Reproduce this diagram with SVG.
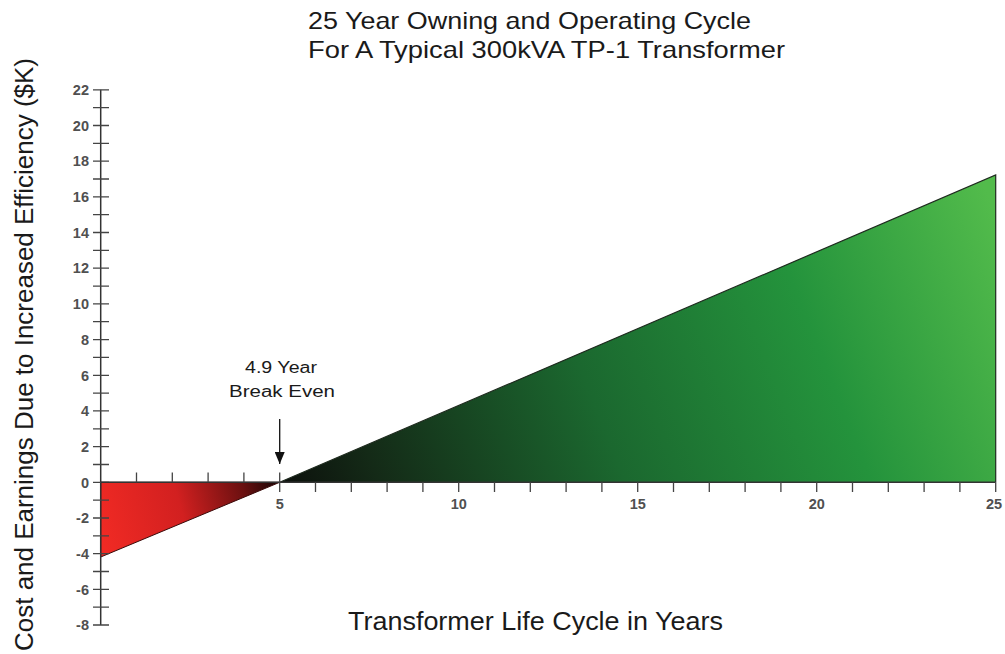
<svg xmlns="http://www.w3.org/2000/svg" width="1005" height="654" viewBox="0 0 1005 654">
  <style>
    text { font-family: "Liberation Sans", Arial, sans-serif; fill: #1a1a1a; }
    .title { font-size: 24px; }
    .axis-title { font-size: 26px; }
    .tick-label { font-size: 14.5px; font-weight: bold; fill: #505050; }
    .note { font-size: 16px; text-anchor: middle; }
    .axis { stroke: #333; stroke-width: 1.5; fill: none; }
    .tick { stroke: #444; stroke-width: 1.3; fill: none; }
    .edge { stroke: #1e2a1e; stroke-width: 1.2; }
  </style>
  <defs>
    <linearGradient id="gainGrad" gradientUnits="userSpaceOnUse" x1="280" y1="482" x2="990" y2="200">
      <stop offset="0" stop-color="#0c100c"/>
      <stop offset="0.12" stop-color="#142a17"/>
      <stop offset="0.42" stop-color="#1b682f"/>
      <stop offset="0.72" stop-color="#24933c"/>
      <stop offset="1" stop-color="#52bb4b"/>
    </linearGradient>
    <linearGradient id="lossGrad" gradientUnits="userSpaceOnUse" x1="100" y1="530" x2="280" y2="482">
      <stop offset="0" stop-color="#f02a24"/>
      <stop offset="0.45" stop-color="#d22020"/>
      <stop offset="0.8" stop-color="#6a1010"/>
      <stop offset="1" stop-color="#140505"/>
    </linearGradient>
    <marker id="arrowHead" viewBox="0 0 12 10" refX="12" refY="5" markerWidth="12" markerHeight="10" markerUnits="userSpaceOnUse" orient="auto">
      <path d="M0,0 L12,5 L0,10 Z" fill="#111"/>
    </marker>
  </defs>

  <g id="title">
    <text class="title" x="308" y="28.5" textLength="443" lengthAdjust="spacingAndGlyphs">25 Year Owning and Operating Cycle</text>
    <text class="title" x="308" y="58" textLength="477" lengthAdjust="spacingAndGlyphs">For A Typical 300kVA TP-1 Transformer</text>
  </g>

  <g id="loss-region">
    <polygon points="100.7,482.3 279.7,482.3 100.7,557" fill="url(#lossGrad)" stroke="#3a0a0a" stroke-width="1"/>
  </g>

  <g id="gain-region">
    <polygon points="279.7,482.3 995.7,175 995.7,482.3" fill="url(#gainGrad)"/>
    <path class="edge" d="M279.7,482.3 L995.7,175 L995.7,482.3" fill="none"/>
  </g>

  <g id="y-axis">
    <path class="axis" d="M100.7,89.8 V625"/>
    <path class="tick" d="M93,89.8 H109 M93,107.7 H109 M93,125.5 H109 M93,143.3 H109 M93,161.2 H109 M93,179 H109 M93,196.9 H109 M93,214.7 H109 M93,232.5 H109 M93,250.4 H109 M93,268.2 H109 M93,286.1 H109 M93,303.9 H109 M93,321.7 H109 M93,339.6 H109 M93,357.4 H109 M93,375.3 H109 M93,393.1 H109 M93,410.9 H109 M93,428.8 H109 M93,446.6 H109 M93,464.5 H109 M93,482.3 H109 M93,500.1 H109 M93,518 H109 M93,535.8 H109 M93,553.7 H109 M93,571.5 H109 M93,589.3 H109 M93,607.2 H109 M93,625 H109"/>
    <g class="ylabels" text-anchor="end">
      <text class="tick-label" x="89" y="95">22</text>
      <text class="tick-label" x="89" y="130.7">20</text>
      <text class="tick-label" x="89" y="166.4">18</text>
      <text class="tick-label" x="89" y="202.1">16</text>
      <text class="tick-label" x="89" y="237.7">14</text>
      <text class="tick-label" x="89" y="273.4">12</text>
      <text class="tick-label" x="89" y="309.1">10</text>
      <text class="tick-label" x="89" y="344.8">8</text>
      <text class="tick-label" x="89" y="380.5">6</text>
      <text class="tick-label" x="89" y="416.1">4</text>
      <text class="tick-label" x="89" y="451.8">2</text>
      <text class="tick-label" x="89" y="487.5">0</text>
      <text class="tick-label" x="89" y="523.2">-2</text>
      <text class="tick-label" x="89" y="558.9">-4</text>
      <text class="tick-label" x="89" y="594.5">-6</text>
      <text class="tick-label" x="89" y="630.2">-8</text>
    </g>
    <text class="axis-title" transform="translate(33,651) rotate(-90)" x="0" y="0" font-size="27" textLength="593" lengthAdjust="spacingAndGlyphs">Cost and Earnings Due to Increased Efficiency ($K)</text>
  </g>

  <g id="x-axis">
    <path class="axis" d="M100.7,482.3 H995.7"/>
    <path class="tick" d="M136.5,472.5 V482.3 M172.3,472.5 V482.3 M208.1,472.5 V482.3 M243.9,472.5 V482.3 M279.7,472.5 V492 M315.5,482.3 V492 M351.3,482.3 V492 M387.1,482.3 V492 M422.9,482.3 V492 M458.7,482.3 V492 M494.5,482.3 V492 M530.3,482.3 V492 M566.1,482.3 V492 M601.9,482.3 V492 M637.7,482.3 V492 M673.5,482.3 V492 M709.3,482.3 V492 M745.1,482.3 V492 M780.9,482.3 V492 M816.7,482.3 V492 M852.5,482.3 V492 M888.3,482.3 V492 M924.1,482.3 V492 M959.9,482.3 V492 M995.7,482.3 V492"/>
    <g text-anchor="middle">
      <text class="tick-label" x="279.7" y="509">5</text>
      <text class="tick-label" x="458.7" y="509">10</text>
      <text class="tick-label" x="637.7" y="509">15</text>
      <text class="tick-label" x="816.7" y="509">20</text>
      <text class="tick-label" x="994" y="509">25</text>
    </g>
    <text class="axis-title" x="348" y="629.5" font-size="25" textLength="375" lengthAdjust="spacingAndGlyphs">Transformer Life Cycle in Years</text>
  </g>

  <g id="break-even">
    <text class="note" x="281" y="372.5" textLength="72" lengthAdjust="spacingAndGlyphs">4.9 Year</text>
    <text class="note" x="282" y="396.5" textLength="106" lengthAdjust="spacingAndGlyphs">Break Even</text>
  </g>

  <g id="connectors">
    <line x1="279.7" y1="419" x2="279.7" y2="464" stroke="#111" stroke-width="1.3" marker-end="url(#arrowHead)"/>
  </g>
</svg>
